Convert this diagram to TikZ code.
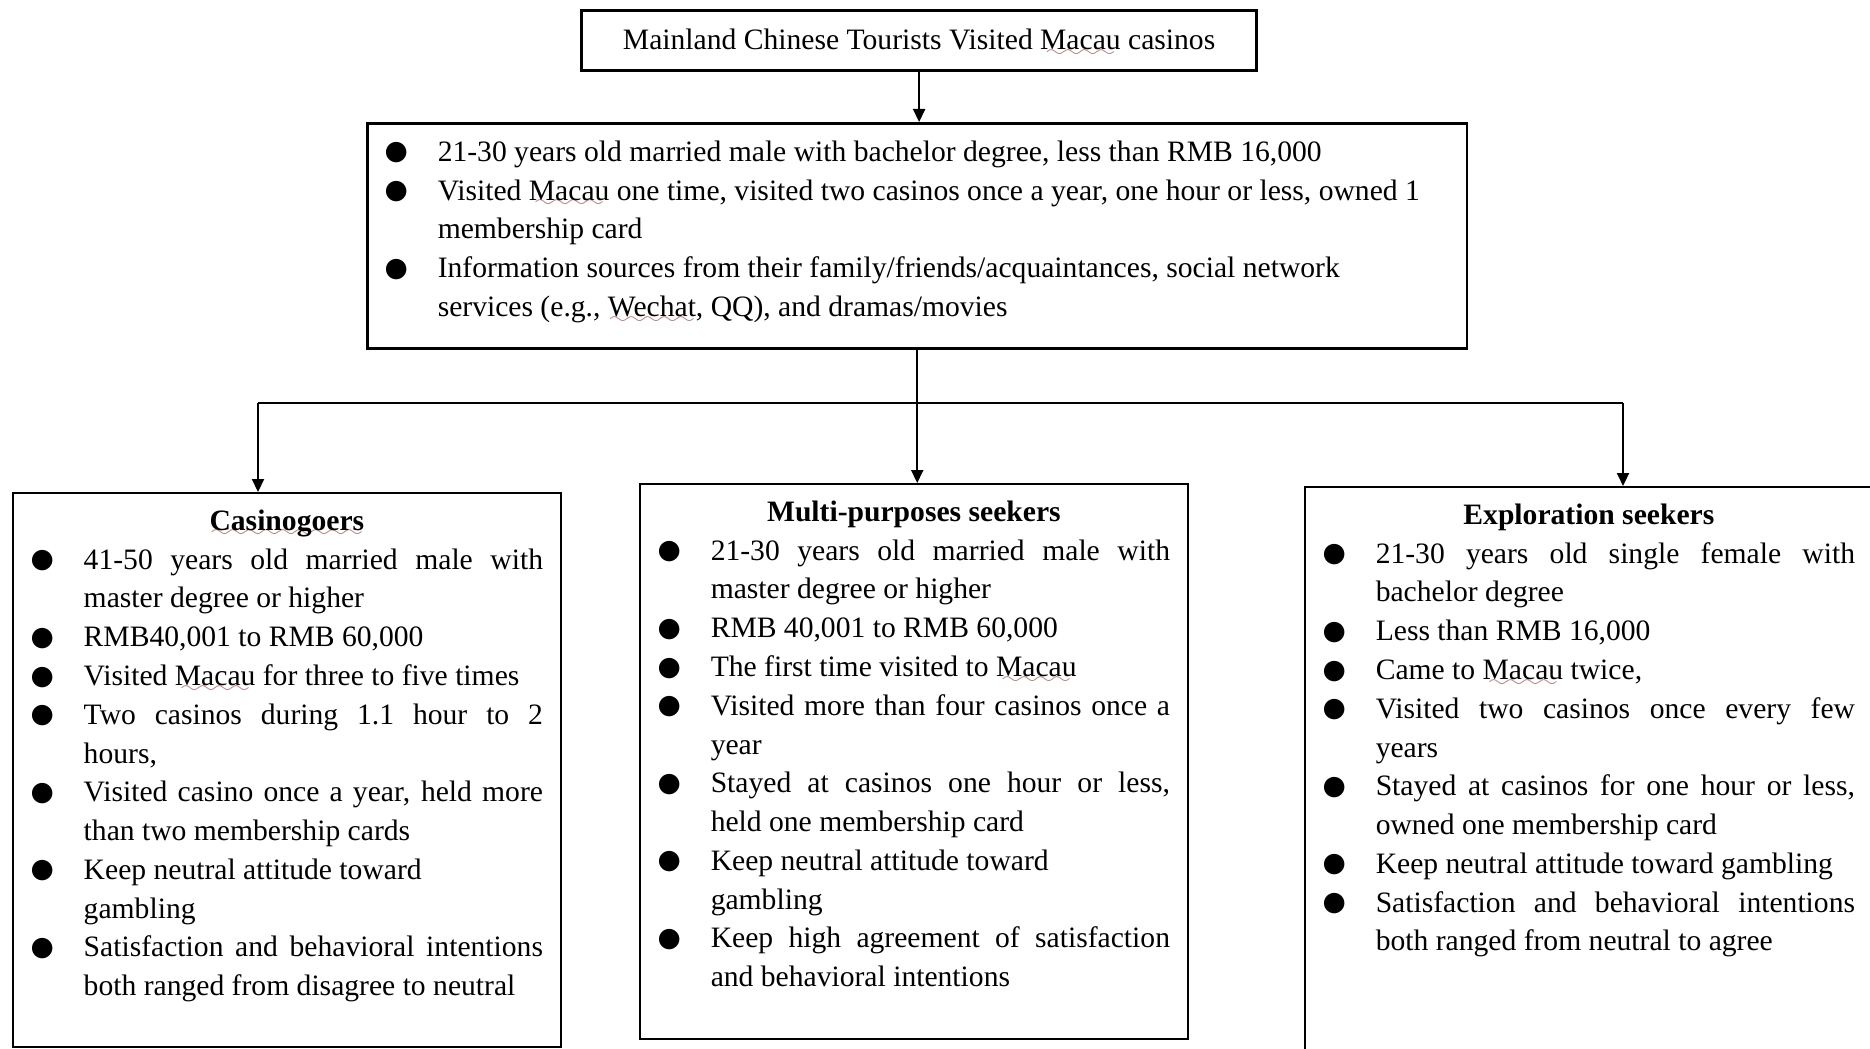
\documentclass[tikz,border=0pt]{standalone}
\usepackage{fontspec}
\setmainfont{Liberation Serif}
\newfontfamily\dotfont{DejaVu Sans}
\usetikzlibrary{positioning,arrows.meta}

\font\wavefont=lasy5
\newcommand\bodysize{\fontsize{8.42pt}{11.03pt}\selectfont}
\newcommand\dotmark{\raisebox{0.4pt}{\dotfont\fontsize{7.6pt}{0pt}\selectfont ●}}
\newcommand\squig[1]{\setbox0\hbox{#1}%
  \rlap{\textcolor{red!30!gray!75}{\lower1.9pt\hbox to\wd0{\cleaders\hbox{\wavefont\char58}\hfil}}}\box0\relax}
\newenvironment{dotlist}{%
  \begin{list}{\dotmark}{%
    \setlength\leftmargin{0.53cm}\setlength\labelwidth{0.53cm}\setlength\labelsep{0pt}%
    \setlength\itemsep{0pt}\setlength\parsep{0pt}\setlength\topsep{0pt}\setlength\partopsep{0pt}%
    \setlength\listparindent{0pt}%
    \renewcommand\makelabel[1]{##1\hfil}}}%
  {\end{list}}

\begin{document}
\begin{tikzpicture}[x=0.01cm, y=-0.01cm, every node/.style={font=\bodysize},
  panel/.style={draw, line width=0.6pt, inner sep=0pt, anchor=north west},
  headbox/.style={panel, line width=0.8pt},
  listtext/.style={inner sep=0pt},
  trunk/.style={line width=0.6pt},
  link/.style={trunk, -{Triangle[length=0.13cm,width=0.12cm]}}]
  \useasboundingbox (0,0) rectangle (1870,1048);
  \clip (0,0) rectangle (1870,1048);
  % top of the tree
  \node[headbox, minimum width=6.75cm, minimum height=0.60cm, text height=0.21cm, text depth=0.02cm] (title) at (580,9)
    {Mainland Chinese Tourists Visited \squig{Macau} casinos};
  \node[headbox, minimum width=10.99cm, minimum height=2.25cm] (profile) at (366,122) {};
  \node[listtext, below right=0.18cm and 0.18cm of profile.north west] (profiletxt) {%
    \begin{minipage}[t]{10.6cm}
    \begin{dotlist}
      \item 21-30 years old married male with bachelor degree, less than RMB 16,000
      \item Visited \squig{Macau} one time, visited two casinos once a year, one hour or less, owned 1\newline membership card
      \item Information sources from their family/friends/acquaintances, social network\newline services (e.g., \squig{Wechat}, QQ), and dramas/movies
    \end{dotlist}
    \end{minipage}};
  % three segments
  \node[panel, minimum width=5.48cm, minimum height=5.54cm] (casino) at (12,492) {};
  \node[panel, minimum width=5.48cm, minimum height=5.55cm] (multi) at (639,483) {};
  \node[panel, minimum width=6.00cm, minimum height=6.00cm] (explore) at (1304,486) {};
  \node[listtext, below right=0.17cm and 0.18cm of casino.north west] (casinotxt) {%
    \begin{minipage}[t]{5.12cm}
    \centerline{\bfseries\squig{Casinogoers}}
    \begin{dotlist}
      \item 41-50 years old married male with\linebreak master degree or higher
      \item RMB40,001 to RMB 60,000
      \item Visited \squig{Macau} for three to five times
      \item Two casinos during 1.1 hour to 2\linebreak hours,
      \item Visited casino once a year, held more\linebreak than two membership cards
      \item Keep neutral attitude toward\newline gambling
      \item Satisfaction and behavioral intentions\linebreak both ranged from disagree to neutral
    \end{dotlist}
    \end{minipage}};
  \node[listtext, below right=0.17cm and 0.18cm of multi.north west] (multitxt) {%
    \begin{minipage}[t]{5.12cm}
    \centerline{\bfseries Multi-purposes seekers}
    \begin{dotlist}
      \item 21-30 years old married male with\linebreak master degree or higher
      \item RMB 40,001 to RMB 60,000
      \item The first time visited to \squig{Macau}
      \item Visited more than four casinos once a\linebreak year
      \item Stayed at casinos one hour or less,\linebreak held one membership card
      \item Keep neutral attitude toward\newline gambling
      \item Keep high agreement of satisfaction\linebreak and behavioral intentions
    \end{dotlist}
    \end{minipage}};
  \node[listtext, below right=0.17cm and 0.18cm of explore.north west] (exploretxt) {%
    \begin{minipage}[t]{5.32cm}
    \centerline{\bfseries Exploration seekers}
    \begin{dotlist}
      \item 21-30 years old single female with\linebreak bachelor degree
      \item Less than RMB 16,000
      \item Came to \squig{Macau} twice,
      \item Visited two casinos once every few\linebreak years
      \item Stayed at casinos for one hour or less,\linebreak owned one membership card
      \item Keep neutral attitude toward gambling
      \item Satisfaction and behavioral intentions\linebreak both ranged from neutral to agree
    \end{dotlist}
    \end{minipage}};
  % connectors
  \coordinate (forkL) at (258,403);
  \coordinate (forkR) at (1623,403);
  \draw[link] (title.south) -- (title.south |- profile.north);
  \draw[trunk] (profile.south) -- (profile.south |- forkL);
  \draw[trunk] (forkL) -- (forkR);
  \draw[link] (forkL) -- (forkL |- casino.north);
  \draw[link] (profile.south |- forkL) -- (profile.south |- multi.north);
  \draw[link] (forkR) -- (forkR |- explore.north);
\end{tikzpicture}
\end{document}
